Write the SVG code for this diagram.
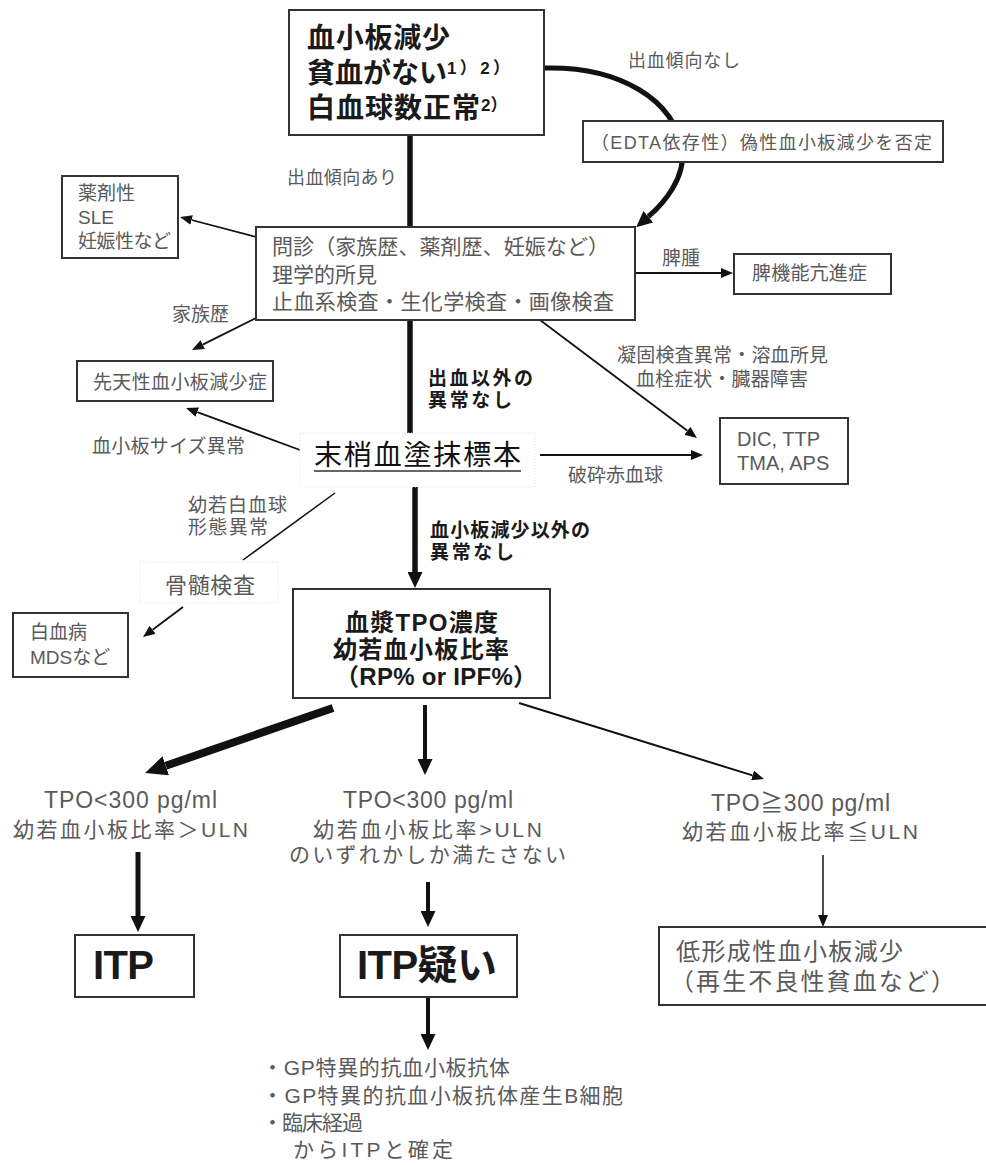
<svg xmlns="http://www.w3.org/2000/svg" width="986" height="1165" viewBox="0 0 986 1165">
<defs>
<style>
.box{fill:#fff;stroke:#333;stroke-width:2}
.faint{fill:#fff;stroke:#e4e4e4;stroke-width:1;stroke-dasharray:1 2}
.t{font-family:"Liberation Sans","Noto Sans CJK JP",sans-serif;fill:#5a5a5a}
.b{font-family:"Liberation Sans","Noto Sans CJK JP",sans-serif;fill:#1a1a1a;font-weight:bold}
.k{fill:none;stroke:#111}
</style>
<marker id="mS" markerUnits="userSpaceOnUse" markerWidth="12" markerHeight="10" refX="0" refY="5" orient="auto"><path d="M0,0 L12,5 L0,10 z" fill="#111"/></marker>
<marker id="mM" markerUnits="userSpaceOnUse" markerWidth="16" markerHeight="15" refX="0" refY="7.5" orient="auto"><path d="M0,0 L16,7.5 L0,15 z" fill="#111"/></marker>
<marker id="mL" markerUnits="userSpaceOnUse" markerWidth="22" markerHeight="20" refX="0" refY="10" orient="auto"><path d="M0,0 L22,10 L0,20 z" fill="#111"/></marker>
</defs>
<rect width="986" height="1165" fill="#fff"/>

<g id="connectors">
<path class="k" stroke-width="5" d="M544,68 C620,66 675,100 682,150 C686,178 663,204 648.3,216.7" marker-end="url(#mM)"/>
<line class="k" stroke-width="5.5" x1="410" y1="135" x2="410" y2="227"/>
<line class="k" stroke-width="1.8" x1="256" y1="237" x2="191.6" y2="220" marker-end="url(#mS)"/>
<line class="k" stroke-width="1.8" x1="635" y1="273" x2="721" y2="273" marker-end="url(#mS)"/>
<line class="k" stroke-width="1.8" x1="256" y1="318" x2="202.7" y2="344.6" marker-end="url(#mS)"/>
<line class="k" stroke-width="5.5" x1="410" y1="320" x2="410" y2="433"/>
<line class="k" stroke-width="1.8" x1="540" y1="320" x2="687.4" y2="430.8" marker-end="url(#mS)"/>
<line class="k" stroke-width="1.8" x1="300" y1="450" x2="197.3" y2="412.1" marker-end="url(#mS)"/>
<line class="k" stroke-width="1.8" x1="540" y1="455" x2="691" y2="455" marker-end="url(#mS)"/>
<line class="k" stroke-width="1.5" x1="335" y1="493" x2="243" y2="560"/>
<line class="k" stroke-width="1.8" x1="183" y1="607" x2="152.6" y2="629.8" marker-end="url(#mS)"/>
<line class="k" stroke-width="5.5" x1="415" y1="485" x2="415" y2="572" marker-end="url(#mM)"/>
<line class="k" stroke-width="8" x1="333" y1="708" x2="165.8" y2="765.8" marker-end="url(#mL)"/>
<line class="k" stroke-width="4" x1="425" y1="705" x2="425" y2="759" marker-end="url(#mM)"/>
<line class="k" stroke-width="2" x1="519" y1="703" x2="752.5" y2="775.4" marker-end="url(#mS)"/>
<line class="k" stroke-width="5" x1="138" y1="852" x2="138" y2="916" marker-end="url(#mM)"/>
<line class="k" stroke-width="4" x1="428" y1="882" x2="428" y2="911" marker-end="url(#mM)"/>
<line class="k" stroke-width="1.5" x1="823" y1="855" x2="823" y2="915" marker-end="url(#mS)"/>
<line class="k" stroke-width="4" x1="428" y1="997" x2="428" y2="1034" marker-end="url(#mM)"/>
</g>

<g id="node-top">
<rect class="box" stroke-width="2.5" x="289" y="10" width="255" height="125"/>
<text class="b" font-size="28" x="307" y="48" textLength="143">血小板減少</text>
<text class="b" font-size="28" x="307" y="83" textLength="140">貧血がない</text>
<text class="b" font-size="17" x="447" y="74" textLength="63">1）2）</text>
<text class="b" font-size="28" x="307" y="118" textLength="173">白血球数正常</text>
<text class="b" font-size="17" x="481" y="111">2）</text>
</g>

<g id="label-nobleed"><text class="t" font-size="18" x="628" y="67" textLength="112">出血傾向なし</text></g>

<g id="node-edta">
<rect class="box" x="583" y="121" width="360" height="41"/>
<text class="t" font-size="18" x="591" y="149" textLength="341">（EDTA依存性）偽性血小板減少を否定</text>
</g>

<g id="label-bleed"><text class="t" font-size="18" x="287" y="184" textLength="110">出血傾向あり</text></g>

<g id="node-drug">
<rect class="box" x="62" y="176" width="116" height="82"/>
<text class="t" font-size="19" x="78" y="200">薬剤性</text>
<text class="t" font-size="19" x="78" y="224">SLE</text>
<text class="t" font-size="19" x="78" y="248" textLength="93">妊娠性など</text>
</g>

<g id="node-monshin">
<rect class="box" x="256" y="227" width="379" height="93"/>
<text class="t" font-size="21" x="272" y="254" textLength="337">問診（家族歴、薬剤歴、妊娠など）</text>
<text class="t" font-size="21" x="272" y="282" textLength="105">理学的所見</text>
<text class="t" font-size="21" x="272" y="309" textLength="342">止血系検査・生化学検査・画像検査</text>
</g>

<g id="label-spleen"><text class="t" font-size="19" x="662" y="265">脾腫</text></g>
<g id="node-hypersplen">
<rect class="box" x="734" y="254" width="157" height="40"/>
<text class="t" font-size="19" x="752" y="280" textLength="115">脾機能亢進症</text>
</g>

<g id="label-family"><text class="t" font-size="19" x="172" y="321">家族歴</text></g>
<g id="node-congenital">
<rect class="box" x="77" y="361" width="196" height="40"/>
<text class="t" font-size="19" x="93" y="389" textLength="174">先天性血小板減少症</text>
</g>

<g id="label-noother"><text class="b" font-size="19" x="428" y="385" textLength="105">出血以外の</text><text class="b" font-size="19" x="428" y="407" textLength="84">異常なし</text></g>

<g id="label-coag">
<text class="t" font-size="19" x="617" y="362" textLength="211">凝固検査異常・溶血所見</text>
<text class="t" font-size="19" x="636" y="386" textLength="172">血栓症状・臓器障害</text>
</g>

<g id="node-dic">
<rect class="box" x="720" y="418" width="128" height="66"/>
<text class="t" font-size="20" x="737" y="446">DIC, TTP</text>
<text class="t" font-size="20" x="737" y="470">TMA, APS</text>
</g>

<g id="node-smear">
<rect class="faint" x="300" y="433" width="235" height="54"/>
<text font-family="Liberation Sans,Noto Sans CJK JP,sans-serif" fill="#111" font-size="28" x="314" y="465" textLength="207">末梢血塗抹標本</text>
<line x1="314" y1="471" x2="521" y2="471" stroke="#333" stroke-width="1.5"/>
</g>

<g id="label-size"><text class="t" font-size="19" x="92" y="453" textLength="153">血小板サイズ異常</text></g>
<g id="label-frag"><text class="t" font-size="19" x="568" y="482" textLength="95">破砕赤血球</text></g>
<g id="label-blast"><text class="t" font-size="19" x="188" y="512" textLength="99">幼若白血球</text><text class="t" font-size="19" x="188" y="534" textLength="80">形態異常</text></g>

<g id="node-marrow">
<rect class="faint" x="140" y="562" width="138" height="41"/>
<text class="t" font-size="22" x="165" y="593" textLength="90">骨髄検査</text>
</g>

<g id="node-leuk">
<rect class="box" x="13" y="613" width="115" height="64"/>
<text class="t" font-size="19" x="30" y="639">白血病</text>
<text class="t" font-size="19" x="30" y="664">MDSなど</text>
</g>

<g id="label-noother2"><text class="b" font-size="19" x="430" y="537" textLength="160">血小板減少以外の</text><text class="b" font-size="19" x="430" y="559" textLength="84">異常なし</text></g>

<g id="node-tpo">
<rect class="box" x="293" y="589" width="257" height="109"/>
<text class="b" font-size="24" x="345" y="631" textLength="153">血漿TPO濃度</text>
<text class="b" font-size="24" x="333" y="658" textLength="176">幼若血小板比率</text>
<text class="b" font-size="24" x="335" y="685" textLength="202">（RP% or IPF%）</text>
</g>

<g id="cond-left">
<text class="t" font-size="23" x="44" y="808" textLength="173">TPO&lt;300 pg/ml</text>
<text class="t" font-size="21" x="13" y="837" textLength="235">幼若血小板比率＞ULN</text>
</g>
<g id="cond-mid">
<text class="t" font-size="23" x="343" y="808" textLength="170">TPO&lt;300 pg/ml</text>
<text class="t" font-size="21" x="313" y="837" textLength="229">幼若血小板比率&gt;ULN</text>
<text class="t" font-size="21" x="289" y="862" textLength="277">のいずれかしか満たさない</text>
</g>
<g id="cond-right">
<text class="t" font-size="23" x="711" y="811" textLength="179">TPO≧300 pg/ml</text>
<text class="t" font-size="21" x="682" y="839" textLength="236">幼若血小板比率≦ULN</text>
</g>

<g id="node-itp">
<rect class="box" x="75" y="935" width="119" height="62"/>
<text class="b" font-size="40" x="93" y="979" textLength="61">ITP</text>
</g>
<g id="node-itp-susp">
<rect class="box" x="340" y="935" width="177" height="62"/>
<text class="b" font-size="40" x="357" y="979" textLength="140">ITP疑い</text>
</g>
<g id="node-hypo">
<rect class="box" x="659" y="927" width="330" height="78"/>
<text class="t" font-size="24" x="676" y="960" textLength="227">低形成性血小板減少</text>
<text class="t" font-size="24" x="670" y="990" textLength="285">（再生不良性貧血など）</text>
</g>

<g id="node-confirm">
<text class="t" font-size="21" x="262" y="1075" textLength="248">・GP特異的抗血小板抗体</text>
<text class="t" font-size="21" x="262" y="1103" textLength="361">・GP特異的抗血小板抗体産生B細胞</text>
<text class="t" font-size="21" x="262" y="1130" textLength="101">・臨床経過</text>
<text class="t" font-size="21" x="293" y="1157" textLength="160">からITPと確定</text>
</g>
</svg>
